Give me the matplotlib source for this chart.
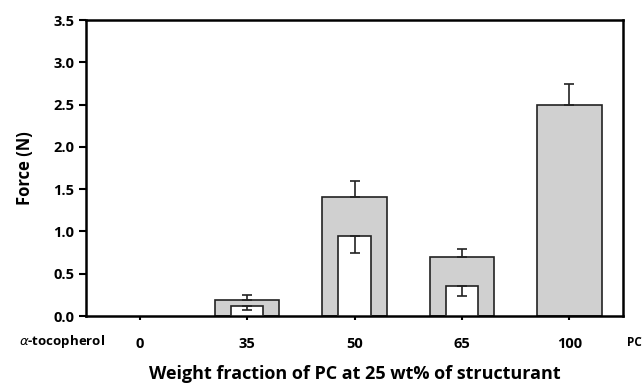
import numpy as np
import matplotlib.pyplot as plt

# Data
categories = ["0", "35", "50", "65", "100"]
grey_vals = [0.0, 0.19, 1.41, 0.70, 2.49]
grey_err = [0.0, 0.055, 0.19, 0.095, 0.25]
white_vals = [0.0, 0.115, 0.945, 0.355, 0.0]
white_err = [0.0, 0.04, 0.20, 0.115, 0.0]

plt.rcParams['font.family'] = ['Open Sans', 'DejaVu Sans']

fig = plt.figure(figsize=(6.43, 3.86), dpi=100)
ax = fig.add_axes([0.1337, 0.1813, 0.8353, 0.7667])

x = np.arange(len(categories)) + 0.5

# grey bars with upward error bars (skip empty categories)
g_mask = np.array(grey_vals) > 0
ax.bar(x[g_mask], np.array(grey_vals)[g_mask], width=0.6, color="#d0d0d0",
       edgecolor="#222222", linewidth=1.2, zorder=2)
ax.errorbar(x[g_mask], np.array(grey_vals)[g_mask],
            yerr=[np.zeros(g_mask.sum()), np.array(grey_err)[g_mask]],
            fmt="none", ecolor="#222222", elinewidth=1.2, capsize=3.4, capthick=1.2, zorder=3)

# white bars with downward error bars
w_mask = np.array(white_vals) > 0
ax.bar(x[w_mask], np.array(white_vals)[w_mask], width=0.3, color="white",
       edgecolor="#222222", linewidth=1.2, zorder=4)
ax.errorbar(x[w_mask], np.array(white_vals)[w_mask],
            yerr=[np.array(white_err)[w_mask], np.zeros(w_mask.sum())],
            fmt="none", ecolor="#222222", elinewidth=1.2, capsize=3.4, capthick=1.2, zorder=5)

ax.set_xlim(0, 5)
ax.set_ylim(0, 3.5)
ax.set_yticks(np.arange(0, 3.51, 0.5))
ax.set_yticklabels([f"{v:.1f}" for v in np.arange(0, 3.51, 0.5)], fontsize=10.5, fontweight="bold")
ax.set_xticks(x)
ax.set_xticklabels(categories, fontsize=10.5, fontweight="bold")
ax.tick_params(axis="x", direction="out", length=3, width=1.5, pad=12)
ax.tick_params(axis="y", direction="out", length=5, width=1.5)

for s in ax.spines.values():
    s.set_linewidth(1.8)
    s.set_color("black")

ax.set_ylabel("Force (N)", fontsize=12, fontweight="bold", labelpad=14)
ax.set_xlabel("Weight fraction of PC at 25 wt% of structurant", fontsize=13, fontweight="bold", labelpad=10)

fig.text(62 / 643, 1 - 341 / 386, r"$\alpha$-tocopherol", fontsize=9.5, fontweight="bold",
         ha="center", va="center")
fig.text(634 / 643, 1 - 343 / 386, "PC", fontsize=8.5, fontweight="bold", ha="center", va="center")

fig.savefig("out.png", dpi=100)
